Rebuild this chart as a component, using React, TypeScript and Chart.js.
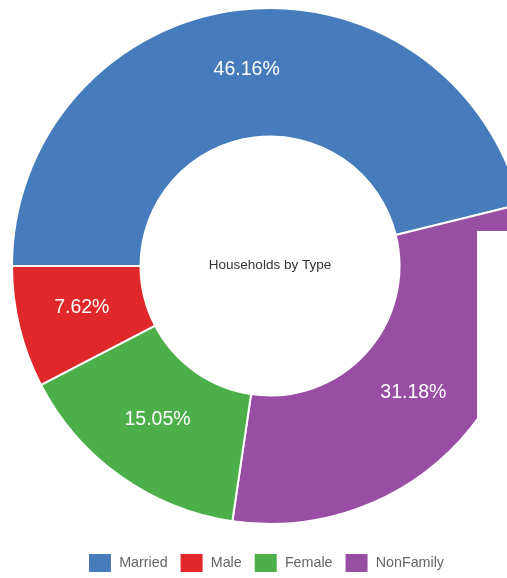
import React, { useEffect, useRef } from "react";
import { Chart, registerables } from "chart.js";

Chart.register(...registerables);

// Clockwise from 9 o'clock, as drawn in the reference
const categories = ["Married", "NonFamily", "Female", "Male"];
const values = [46.16, 31.18, 15.05, 7.62];
const colors = ["#467cbb", "#984ea3", "#4daf4a", "#e0282a"];
const legendOrder = ["Married", "Male", "Female", "NonFamily"];
const centerTitle = "Households by Type";

const labelPlugin = {
  id: "sliceLabels",
  afterLayout(chart: any) {
    if (chart.legend) {
      chart.legend.left -= 8;
    }
  },
  afterDatasetsDraw(chart: any) {
    const ctx = chart.ctx;
    const meta = chart.getDatasetMeta(0);
    ctx.save();
    ctx.fillStyle = "#ffffff";
    ctx.font = "19.5px 'Liberation Sans', Arial, sans-serif";
    ctx.textAlign = "center";
    ctx.textBaseline = "middle";
    meta.data.forEach((arc: any, i: number) => {
      const p = arc.tooltipPosition();
      ctx.fillText(values[i].toFixed(2) + "%", p.x, p.y - 4);
    });
    const a = chart.chartArea;
    ctx.fillStyle = "#333333";
    ctx.font = "13.5px 'Liberation Sans', Arial, sans-serif";
    ctx.fillText(centerTitle, (a.left + a.right) / 2, (a.top + a.bottom) / 2 - 1);
    ctx.restore();
  },
};

export default function App() {
  const ref = useRef<HTMLCanvasElement | null>(null);
  useEffect(() => {
    document.body.style.overflow = "hidden";
    const chart = new Chart(ref.current as HTMLCanvasElement, {
      type: "doughnut",
      data: {
        labels: categories,
        datasets: [
          {
            data: values,
            backgroundColor: colors,
            borderColor: "#ffffff",
            borderWidth: 2,
            radius: 258,
            cutout: 131,
          } as any,
        ],
      },
      options: {
        responsive: false,
        animation: false,
        rotation: -90,
        events: [],
        plugins: {
          tooltip: { enabled: false },
          legend: {
            position: "bottom",
            labels: {
              boxWidth: 24,
              boxHeight: 20,
              padding: 12,
              color: "#666",
              font: { size: 14.3, family: "'Liberation Sans', Arial, sans-serif" },
              sort: (a: any, b: any) => legendOrder.indexOf(a.text) - legendOrder.indexOf(b.text),
            },
          },
        },
      } as any,
      plugins: [labelPlugin],
    });
    return () => chart.destroy();
  }, []);
  return (
    <div style={{ position: "fixed", left: 0, top: 0, width: 507, height: 578, overflow: "hidden", background: "#fff" }}>
      <canvas ref={ref} width={524} height={592} style={{ position: "absolute", left: 8, top: -9, width: 524, height: 592 }} />
      <div style={{ position: "absolute", left: 477, top: 231, width: 40, height: 300, background: "#fff" }} />
    </div>
  );
}
